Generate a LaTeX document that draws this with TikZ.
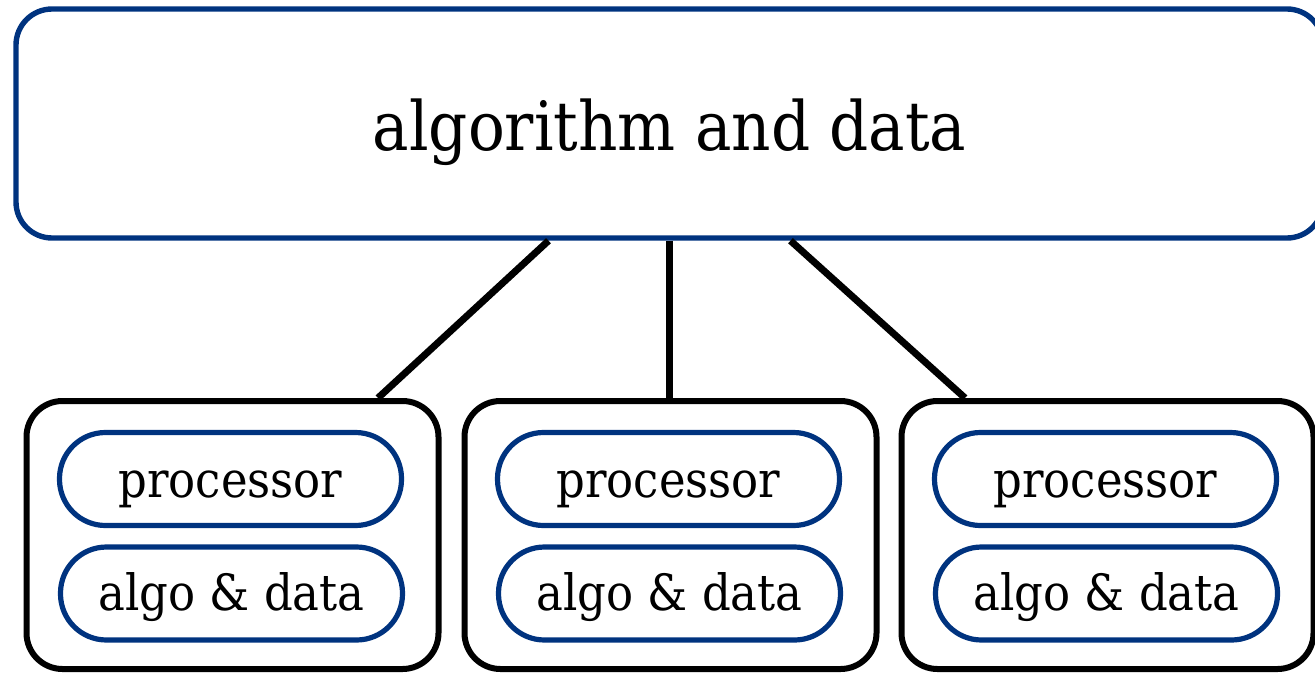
\documentclass[tikz,border=0pt]{standalone}
\usepackage{fontspec}
\setmainfont{DejaVu Serif Condensed}
\usetikzlibrary{calc}
\definecolor{navy}{HTML}{00337F}
\begin{document}
\begin{tikzpicture}[x=0.5pt,y=-0.5pt,
  topbox/.style={draw=navy,line width=2.7pt,rounded corners=18pt,minimum width=653.5pt,minimum height=114.5pt,text height=28pt,text depth=1.5pt,font=\fontsize{34}{40}\selectfont},
  outerbox/.style={draw=black,line width=3pt,rounded corners=18pt,minimum width=206pt,minimum height=134pt},
  innerbox/.style={draw=navy,line width=2.6pt,rounded corners=23pt,minimum width=171pt,minimum height=46.5pt,font=\fontsize{25}{30}\selectfont},
  proctext/.style={text height=19.5pt,text depth=1pt},
  algotext/.style={text height=18pt,text depth=1.5pt},
  link/.style={draw=black,line width=3.5pt}]
\useasboundingbox (0,0) rectangle (1315,674);
\node[topbox] (top) at (669.5,123.5) {algorithm and data};
\foreach \i/\cx in {1/232.5,2/670.5,3/1107.5}{
  \node[outerbox] (box\i) at (\cx,535) {};
  \node[innerbox,proctext] (proc\i) at (\cx-2,479) {processor};
  \node[innerbox,algotext] (algo\i) at (\cx-1,593.5) {algo \& data};
}
\draw[link] ($(top.south)+(-121,0)$) -- ($(box1.north)+(145.5,0)$);
\draw[link] (top.south) -- (top.south |- box2.north);
\draw[link] ($(top.south)+(121,0)$) -- ($(box3.north)+(-142.5,0)$);
\end{tikzpicture}
\end{document}
